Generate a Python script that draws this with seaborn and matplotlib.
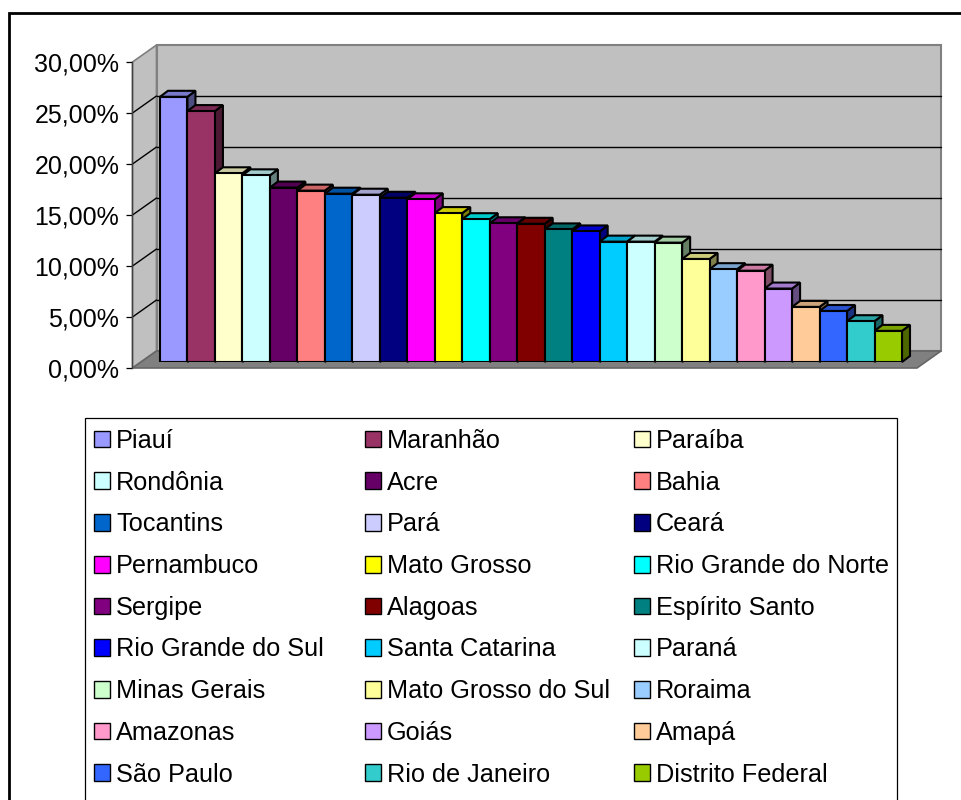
import numpy as np
import pandas as pd
import matplotlib
matplotlib.use("Agg")
import matplotlib.pyplot as plt
import matplotlib.colors as mcolors
from matplotlib.patches import Polygon, Rectangle, Patch
from matplotlib.lines import Line2D
from matplotlib.transforms import IdentityTransform
from matplotlib.ticker import FuncFormatter
import seaborn as sns

# ---------------- data ----------------
states = ["Piauí", "Maranhão", "Paraíba", "Rondônia", "Acre", "Bahia",
          "Tocantins", "Pará", "Ceará", "Pernambuco", "Mato Grosso",
          "Rio Grande do Norte", "Sergipe", "Alagoas", "Espírito Santo",
          "Rio Grande do Sul", "Santa Catarina", "Paraná", "Minas Gerais",
          "Mato Grosso do Sul", "Roraima", "Amazonas", "Goiás", "Amapá",
          "São Paulo", "Rio de Janeiro", "Distrito Federal"]
values = [26.0, 24.6, 18.5, 18.3, 17.1, 16.8, 16.5, 16.4, 16.1, 15.95, 14.6,
          14.0, 13.6, 13.55, 13.0, 12.8, 11.8, 11.8, 11.7, 10.1, 9.1, 8.95,
          7.2, 5.4, 5.0, 4.0, 3.05]
colors = ["#9999FF", "#993366", "#FFFFCC", "#CCFFFF", "#660066", "#FF8080",
          "#0066CC", "#CCCCFF", "#000080", "#FF00FF", "#FFFF00", "#00FFFF",
          "#800080", "#800000", "#008080", "#0000FF", "#00CCFF", "#CCFFFF",
          "#CCFFCC", "#FFFF99", "#99CCFF", "#FF99CC", "#CC99FF", "#FFCC99",
          "#3366FF", "#33CCCC", "#99CC00"]
y_ticks = [0, 5, 10, 15, 20, 25, 30]

# ---------------- style ----------------
sns.set_theme(style="white")
plt.rcParams["font.family"] = ["Liberation Sans", "DejaVu Sans"]
plt.rcParams["text.color"] = "black"

W, H = 962, 800
fig = plt.figure(figsize=(W / 100, H / 100), dpi=100)
fig.patch.set_facecolor("white")


def fx(px):
    return px / W


def fy(py):
    return 1 - py / H


# depth offsets in display pixels (x right, y up)
FRONT = (-8.5, -6.0)   # bar plane -> front plane
BDEPTH = (8.0, 6.0)    # bar depth
BACK = (15.5, 11.0)    # bar plane -> back wall

# bar plane axes
ax = fig.add_axes([fx(141), fy(362), (925.5 - 141) / W, 306 / H])
df = pd.DataFrame({"estado": states, "valor": values})
sns.barplot(data=df, x="estado", y="valor", hue="estado", order=states,
            hue_order=states, palette=dict(zip(states, colors)), legend=False,
            width=1.0, saturation=1, edgecolor="black", linewidth=1.5, ax=ax)
ax.set_xlim(-1.19, 27.355)
ax.set_ylim(y_ticks[0], y_ticks[-1])
ax.set_axis_off()

bars = sorted([p for p in ax.patches if isinstance(p, Rectangle)],
              key=lambda p: p.get_x())

T = ax.transData


def P(x, y, off=(0.0, 0.0)):
    px, py = T.transform((x, y))
    return (px + off[0], py + off[1])


xmin, xmax = ax.get_xlim()
ymax = y_ticks[-1]
idt = IdentityTransform()

left_wall = Polygon([P(xmin, 0, FRONT), P(xmin, ymax, FRONT),
                     P(xmin, ymax, BACK), P(xmin, 0, BACK)], closed=True,
                    facecolor="#C0C0C0", edgecolor="#808080", lw=1.2,
                    transform=idt, clip_on=False, zorder=0.5)
back_wall = Polygon([P(xmin, 0, BACK), P(xmin, ymax, BACK),
                     P(xmax, ymax, BACK), P(xmax, 0, BACK)], closed=True,
                    facecolor="#C0C0C0", edgecolor="#808080", lw=1.5,
                    transform=idt, clip_on=False, zorder=0.5)
floor = Polygon([P(xmin, 0, FRONT), P(xmax, 0, FRONT),
                 P(xmax, 0, BACK), P(xmin, 0, BACK)], closed=True,
                facecolor="#808080", edgecolor="#666666", lw=1.2,
                transform=idt, clip_on=False, zorder=0.6)
for a in (left_wall, back_wall, floor):
    ax.add_artist(a)

for v in y_ticks[1:-1]:
    a1, a2 = P(xmin, v, BACK), P(xmax, v, BACK)
    ax.add_artist(Line2D([a1[0], a2[0]], [a1[1], a2[1]], color="black",
                         lw=1.0, transform=idt, clip_on=False, zorder=0.7))
    b1, b2 = P(xmin, v, FRONT), P(xmin, v, BACK)
    ax.add_artist(Line2D([b1[0], b2[0]], [b1[1], b2[1]], color="black",
                         lw=1.0, transform=idt, clip_on=False, zorder=0.7))

for p, c in zip(bars, colors):
    x0 = p.get_x()
    x1 = x0 + p.get_width()
    h = p.get_height()
    p.set_zorder(3)
    rgb = np.array(mcolors.to_rgb(c))
    side = Polygon([P(x1, 0), P(x1, h), P(x1, h, BDEPTH), P(x1, 0, BDEPTH)],
                   closed=True, facecolor=rgb * 0.5, edgecolor="black",
                   lw=1.5, transform=idt, clip_on=False, zorder=1)
    top = Polygon([P(x0, h), P(x1, h), P(x1, h, BDEPTH), P(x0, h, BDEPTH)],
                  closed=True, facecolor=rgb * 0.8, edgecolor="black",
                  lw=1.5, transform=idt, clip_on=False, zorder=2)
    ax.add_artist(side)
    ax.add_artist(top)

# front plane axes (value axis)
axf = fig.add_axes([fx(132.5), fy(368), (925.5 - 141) / W, 306 / H])
axf.patch.set_alpha(0)
axf.set_ylim(y_ticks[0], y_ticks[-1])
axf.set_yticks(y_ticks)
axf.yaxis.set_major_formatter(
    FuncFormatter(lambda v, _: f"{v:.2f}".replace(".", ",") + "%"))
axf.set_xticks([])
for s in ("top", "right", "bottom"):
    axf.spines[s].set_visible(False)
axf.spines["left"].set_color("#404040")
axf.spines["left"].set_linewidth(1.0)
axf.tick_params(axis="y", direction="out", length=4.5, width=0.9,
                color="black", labelsize=18, pad=5, left=True,
                labelcolor="black")

# legend (three columns, row-major order)
handles = [Patch(facecolor=c, edgecolor="black", linewidth=1.0)
           for c in colors]
col_x = [94, 365, 634]
for ci in range(3):
    idx = list(range(ci, len(states), 3))
    fig.legend([handles[i] for i in idx], [states[i] for i in idx],
               loc="upper left", bbox_to_anchor=(fx(col_x[ci]), fy(429)),
               frameon=False, borderpad=0, borderaxespad=0,
               handlelength=0.64, handleheight=0.64, handletextpad=0.24,
               labelspacing=0.70, fontsize=18.2, labelcolor="black")

fig.add_artist(Rectangle((fx(85), fy(815)), (897 - 85) / W, (815 - 418) / H,
                         transform=fig.transFigure, fill=False,
                         edgecolor="black", lw=0.9))
fig.add_artist(Rectangle((fx(9), fy(815)), (980 - 9) / W, (815 - 13) / H,
                         transform=fig.transFigure, fill=False,
                         edgecolor="black", lw=2.0))

fig.savefig("out.png", dpi=100)
